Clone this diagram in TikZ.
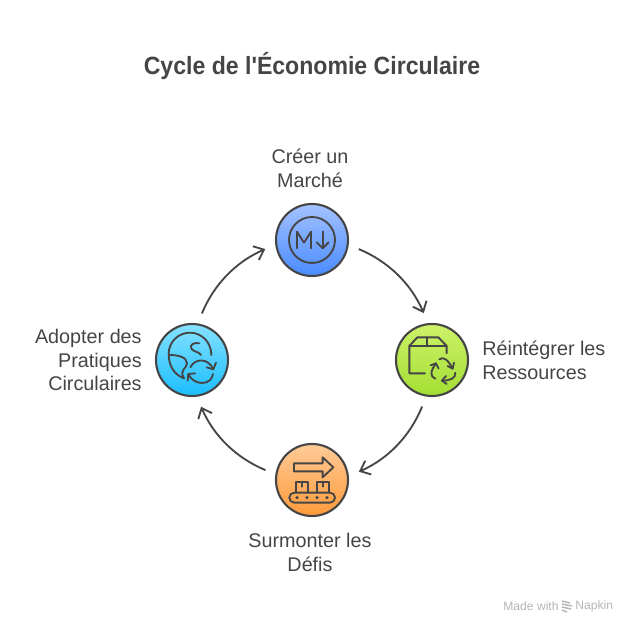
\documentclass[tikz,border=0pt]{standalone}
\usepackage{fontspec}
\setmainfont{Liberation Sans}
\newfontfamily\titlefont[FakeStretch=0.925]{Liberation Sans}
\usetikzlibrary{positioning,arrows.meta,shapes.geometric}
\definecolor{inkgray}{HTML}{454545}
\definecolor{markgray}{HTML}{B4B4B4}
\definecolor{bluetop}{HTML}{A3C2FF}
\definecolor{bluelow}{HTML}{4A8BFF}
\definecolor{greentop}{HTML}{CDF26A}
\definecolor{greenlow}{HTML}{A3DE32}
\definecolor{orangetop}{HTML}{FFCB96}
\definecolor{orangelow}{HTML}{FF9A3B}
\definecolor{cyantop}{HTML}{85E1FF}
\definecolor{cyanlow}{HTML}{1ABEFF}
\tikzset{
  stage/.style={circle,draw=inkgray,line width=1.2pt,minimum size=41pt,inner sep=0pt,outer sep=6.6pt},
  lbl/.style={font=\fontsize{11.25}{13.6}\selectfont,text=inkgray,inner sep=0pt},
  cycarrow/.style={draw=inkgray,line width=1.05pt,-{Straight Barb[length=5pt,width=8.5pt,line width=1.05pt]},bend left=22,looseness=0.9},
  icon/.style={draw=inkgray,line width=1.05pt,line cap=round,line join=round,fill=none}
}
\begin{document}
\begin{tikzpicture}[x=0.02cm,y=-0.02cm]
  \useasboundingbox (0,0) rectangle (636,634);
  \node[font=\fontsize{14.2}{17}\titlefont\bfseries,text=inkgray,inner sep=0pt] (title) at (312,66) {Cycle de l{\char39}Économie Circulaire};

  % stages
  \node[stage,top color=bluetop,bottom color=bluelow] (market) at (312,240) {};
  \node[stage,top color=greentop,bottom color=greenlow] (reuse) at (432,360) {};
  \node[stage,top color=orangetop,bottom color=orangelow] (defis) at (312,480) {};
  \node[stage,top color=cyantop,bottom color=cyanlow] (adopt) at (192,360) {};

  % labels
  \node[lbl,align=center] (marketlbl) at (310,168) {Créer un\\Marché};
  \node[lbl,align=left,anchor=west] (reuselbl) at (482,360) {Réintégrer les\\Ressources};
  \node[lbl,align=center] (defislbl) at (310,552) {Surmonter les\\Défis};
  \node[lbl,align=right,anchor=east] (adoptlbl) at (142,360) {Adopter des\\Pratiques\\Circulaires};

  % cycle
  \draw[cycarrow] (market.-11) to (reuse.100);
  \draw[cycarrow] (reuse.258) to (defis.10);
  \draw[cycarrow] (defis.168) to (adopt.-79);
  \draw[cycarrow] (adopt.78) to (market.191);

  % M-down icon
  \begin{scope}[shift={(260,190)},scale=1/3]
    \draw[icon] (156,150) circle (69);
    \draw[icon] (111,175) -- (111,125) -- (132,158) -- (153,125) -- (153,175);
    \draw[icon] (188,125) -- (188,175);
    \draw[icon] (170,157) -- (188,175) -- (206,157);
  \end{scope}

  % box icon
  \begin{scope}[shift={(380,310)},scale=1/3]
    \draw[icon] (135,190) -- (88,190) -- (88,108) -- (112,82) -- (175,82) -- (200,108) -- (200,130);
    \draw[icon] (88,108) -- (200,108);
    \draw[icon] (142,82) -- (142,108);
    \draw[icon] (178,148) .. controls (190,138) and (205,150) .. (218,176);
    \draw[icon] (203,168) -- (218,176) -- (222,158);
    \draw[icon] (226,188) .. controls (228,205) and (210,212) .. (186,212);
    \draw[icon] (198,198) -- (186,212) -- (200,222);
    \draw[icon] (166,206) .. controls (150,200) and (150,185) .. (168,160);
    \draw[icon] (152,166) -- (168,160) -- (176,176);
  \end{scope}

  % conveyor icon
  \begin{scope}[shift={(260,430)},scale=1/3]
    \draw[icon] (102,100) -- (188,100) -- (188,82) -- (220,112) -- (188,142) -- (188,124) -- (102,124) -- cycle;
    \draw[icon] (108,188) -- (108,155) -- (145,155) -- (145,188);
    \draw[icon] (170,188) -- (170,155) -- (208,155) -- (208,188);
    \draw[icon] (127,155) -- (127,170);
    \draw[icon] (189,155) -- (189,170);
    \draw[icon,rounded corners=2.8pt] (88,188) rectangle (225,218);
    \foreach \dotx in {111,141,171,201}
      \fill[inkgray] (\dotx,203) circle (5.5);
  \end{scope}

  % globe icon
  \begin{scope}[shift={(142,310)},scale=1/3]
    \draw[icon] (126,205) .. controls (95,194) and (80,165) .. (80,132) .. controls (80,95) and (110,68) .. (144,68) .. controls (180,68) and (208,98) .. (208,135);
    \draw[icon] (82,135) .. controls (105,135) and (135,140) .. (135,160) .. controls (135,175) and (110,180) .. (126,205);
    \draw[icon] (172,100) .. controls (155,96) and (142,105) .. (148,116) .. controls (154,126) and (172,125) .. (177,135);
    \draw[icon] (145,172) .. controls (158,145) and (198,142) .. (214,178);
    \draw[icon] (194,172) -- (214,178) -- (222,158);
    \draw[icon] (213,192) .. controls (208,228) and (155,228) .. (139,192);
    \draw[icon] (159,190) -- (139,192) -- (137,212);
  \end{scope}

  % watermark
  \node[font=\fontsize{6.9}{8}\selectfont,text=markgray,inner sep=0pt,anchor=west] (made) at (503,606) {Made with};
  \node[font=\fontsize{6.9}{8}\selectfont,text=markgray,inner sep=0pt,anchor=west] (napkin) at (575,606) {Napkin};
  \foreach \stripey/\stripel in {602/8,605/10,608/9,611/5}
    \draw[markgray,line width=0.8pt] (562,\stripey-1) -- ++(\stripel,2);
\end{tikzpicture}
\end{document}
